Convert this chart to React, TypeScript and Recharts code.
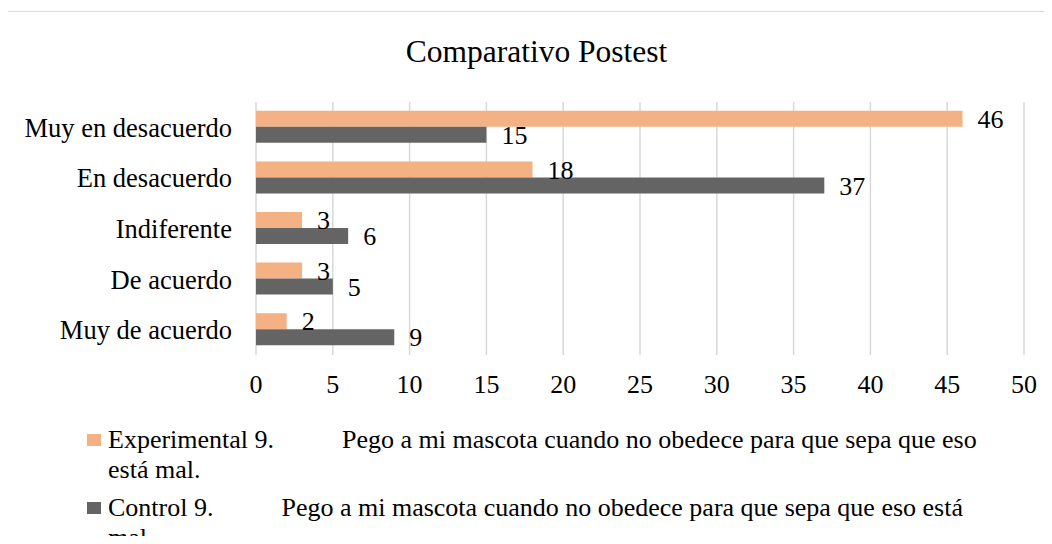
import { BarChart, Bar, XAxis, YAxis, CartesianGrid, Legend, LabelList } from 'recharts';

const categories = ['Muy en desacuerdo', 'En desacuerdo', 'Indiferente', 'De acuerdo', 'Muy de acuerdo'];
const experimental = [46, 18, 3, 3, 2];
const control = [15, 37, 6, 5, 9];
const xTicks = [0, 5, 10, 15, 20, 25, 30, 35, 40, 45, 50];
const experimentalName = 'Experimental 9.\tPego a mi mascota cuando no obedece para que sepa que eso está mal.';
const controlName = 'Control 9.\tPego a mi mascota cuando no obedece para que sepa que eso está mal.';
const legendOrder = [experimentalName, controlName];

const chartData = categories.map((name, i) => ({
  name,
  experimental: experimental[i],
  control: control[i],
}));

const font = '"Liberation Serif", "Times New Roman", serif';

function LegendBlock({ payload }: any) {
  const items = [...(payload || [])].sort(
    (a: any, b: any) => legendOrder.indexOf(a.value) - legendOrder.indexOf(b.value)
  );
  return (
    <div style={{ fontFamily: font, fontSize: 26, lineHeight: '30px', color: '#000' }}>
      {items.map((entry: any) => {
        const [head, tail] = String(entry.value).split('\t');
        return (
          <div key={entry.value} style={{ display: 'flex', alignItems: 'flex-start', marginBottom: 8 }}>
            <span
              style={{
                width: 14,
                height: 12,
                background: entry.color,
                marginTop: 9,
                marginRight: 7,
                flex: 'none',
              }}
            />
            <div style={{ width: 905 }}>
              {head}
              <span style={{ display: 'inline-block', width: 68 }} />
              {tail}
            </div>
          </div>
        );
      })}
    </div>
  );
}

export default function App() {
  return (
    <div style={{ position: 'relative', width: 1052, height: 544, margin: -8, overflow: 'hidden', background: '#fff', fontFamily: font }}>
      <div
        style={{
          position: 'absolute',
          left: 6,
          top: 11,
          width: 1100,
          height: 600,
          border: '1px solid #d9d9d9',
        }}
      />
      <div
        style={{
          position: 'absolute',
          top: 36,
          left: 0,
          width: 1073,
          textAlign: 'center',
          fontFamily: font,
          fontSize: 31.5,
          lineHeight: '31px',
          color: '#000',
        }}
      >
        Comparativo Postest
      </div>
      <div style={{ position: 'absolute', left: 0, top: 0 }}>
        <BarChart
          width={1052}
          height={544}
          data={chartData}
          layout="vertical"
          margin={{ top: 102, right: 28, bottom: 149, left: 0 }}
          barGap={0}
          barCategoryGap="17.4%"
          style={{ fontFamily: font }}
        >
          <CartesianGrid horizontal={false} stroke="#d9d9d9" strokeWidth={1.5} />
          <XAxis
            type="number"
            domain={[0, 50]}
            ticks={xTicks}
            interval={0}
            axisLine={false}
            tickLine={false}
            tickSize={0}
            tickMargin={20}
            height={40}
            tick={{ fontSize: 26, fill: '#000', fontFamily: font }}
          />
          <YAxis
            type="category"
            dataKey="name"
            width={256}
            interval={0}
            axisLine={false}
            tickLine={false}
            tickSize={0}
            tickMargin={24}
            tick={{ fontSize: 26.5, fill: '#000', fontFamily: font }}
          />
          <Legend
            layout="horizontal"
            verticalAlign="middle"
            align="center"
            content={<LegendBlock />}
            wrapperStyle={{ position: 'absolute', left: 87, top: 425, width: 1000, height: 120, bottom: 'auto', right: 'auto' }}
          />
          <Bar dataKey="experimental" name={experimentalName} fill="#F4B183" isAnimationActive={false}>
            <LabelList dataKey="experimental" position="right" offset={15} style={{ fontSize: 26, fill: '#000', fontFamily: font }} />
          </Bar>
          <Bar dataKey="control" name={controlName} fill="#646464" isAnimationActive={false}>
            <LabelList dataKey="control" position="right" offset={15} style={{ fontSize: 26, fill: '#000', fontFamily: font }} />
          </Bar>
        </BarChart>
      </div>
    </div>
  );
}
